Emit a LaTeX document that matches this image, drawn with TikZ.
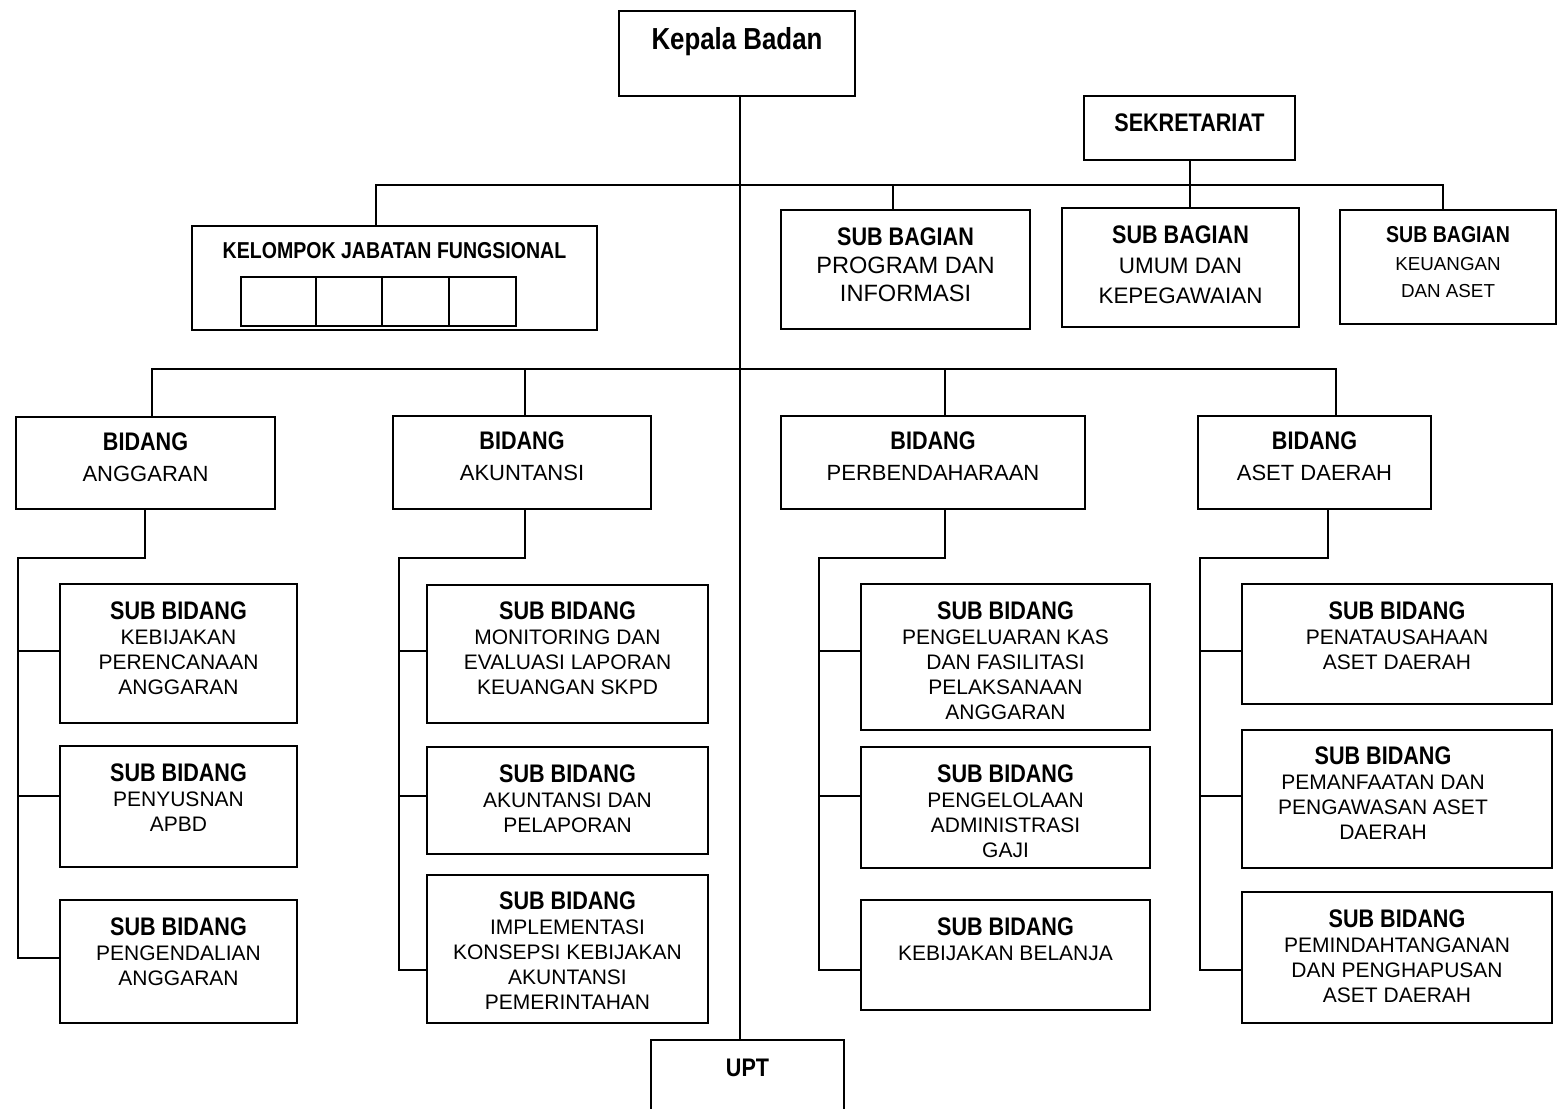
\documentclass[tikz,border=0pt]{standalone}
\usepackage{fontspec}
\setmainfont{Liberation Sans}
\newfontfamily\hdfam[FakeStretch=0.85]{Liberation Sans}
\newcommand{\kop}[1]{{\hdfam\bfseries\fontsize{12.7}{12.5}\selectfont #1}}
\usetikzlibrary{positioning,fit}

\begin{document}
\begin{tikzpicture}[x=0.5pt, y=-0.5pt, line width=1pt,
    box/.style={draw, rectangle, inner sep=0pt, line width=1.1pt},
    txt/.style={inner sep=0pt, align=center, font=\fontsize{10.5}{12.5}\selectfont}]
  \clip (0,0) rectangle (1557,1108);

  % pimpinan dan sekretariat
  \node[box, fit={(619,11) (855,96)}] (kb) {};
  \node[txt, below=8.5pt of kb.north] (kbt) {{\hdfam\bfseries\fontsize{15.2}{18}\selectfont Kepala Badan}};
  \node[box, fit={(1084,96) (1295,160)}] (sek) {};
  \node[txt, below=9pt of sek.north] (sekt) {\kop{SEKRETARIAT}};

  \node[box, fit={(192,226) (597,330)}] (kjf) {};
  \node[txt, below=8.4pt of kjf.north] (kjft) {{\hdfam\bfseries\fontsize{11.5}{12}\selectfont KELOMPOK JABATAN FUNGSIONAL}};
  \draw (241,277) rectangle (516,326);
  \foreach \x in {316,382,449} \draw (\x,277) -- (\x,326);

  \node[box, fit={(781,210) (1030,329)}] (sb1) {};
  \node[txt, font=\fontsize{11.8}{14}\selectfont, below=9pt of sb1.north] (sb1t) {\kop{SUB BAGIAN}\\PROGRAM DAN\\INFORMASI};
  \node[box, fit={(1062,208) (1299,327)}] (sb2) {};
  \node[txt, font=\fontsize{11.2}{15}\selectfont, below=9pt of sb2.north] (sb2t) {\kop{SUB BAGIAN}\\UMUM DAN\\KEPEGAWAIAN};
  \node[box, fit={(1340,210) (1556,324)}] (sb3) {};
  \node[txt, font=\fontsize{9.4}{13.75}\selectfont, below=8.4pt of sb3.north] (sb3t) {{\hdfam\bfseries\fontsize{11.5}{12}\selectfont SUB BAGIAN}\\KEUANGAN\\DAN ASET};

  % bidang
  \node[box, fit={(16,417) (275,509)}] (bid1) {};
  \node[txt, font=\fontsize{11}{15.5}\selectfont, below=8pt of bid1.north] (bid1t) {\kop{BIDANG}\\ANGGARAN};
  \node[box, fit={(393,416) (651,509)}] (bid2) {};
  \node[txt, font=\fontsize{11}{15.5}\selectfont, below=8pt of bid2.north] (bid2t) {\kop{BIDANG}\\AKUNTANSI};
  \node[box, fit={(781,416) (1085,509)}] (bid3) {};
  \node[txt, font=\fontsize{11}{15.5}\selectfont, below=8pt of bid3.north] (bid3t) {\kop{BIDANG}\\PERBENDAHARAAN};
  \node[box, fit={(1198,416) (1431,509)}] (bid4) {};
  \node[txt, font=\fontsize{11}{15.5}\selectfont, below=8pt of bid4.north] (bid4t) {\kop{BIDANG}\\ASET DAERAH};

  % sub bidang
  \node[box, fit={(60,584) (297,723)}] (s11) {};
  \node[txt, below=9pt of s11.north] (s11t) {\kop{SUB BIDANG}\\KEBIJAKAN\\PERENCANAAN\\ANGGARAN};
  \node[box, fit={(60,746) (297,867)}] (s12) {};
  \node[txt, below=9pt of s12.north] (s12t) {\kop{SUB BIDANG}\\PENYUSNAN\\APBD};
  \node[box, fit={(60,900) (297,1023)}] (s13) {};
  \node[txt, below=9pt of s13.north] (s13t) {\kop{SUB BIDANG}\\PENGENDALIAN\\ANGGARAN};

  \node[box, fit={(427,585) (708,723)}] (s21) {};
  \node[txt, below=8.5pt of s21.north] (s21t) {\kop{SUB BIDANG}\\MONITORING DAN\\EVALUASI LAPORAN\\KEUANGAN SKPD};
  \node[box, fit={(427,747) (708,854)}] (s22) {};
  \node[txt, below=9pt of s22.north] (s22t) {\kop{SUB BIDANG}\\AKUNTANSI DAN\\PELAPORAN};
  \node[box, fit={(427,875) (708,1023)}] (s23) {};
  \node[txt, below=8.5pt of s23.north] (s23t) {\kop{SUB BIDANG}\\IMPLEMENTASI\\KONSEPSI KEBIJAKAN\\AKUNTANSI\\PEMERINTAHAN};

  \node[box, fit={(861,584) (1150,730)}] (s31) {};
  \node[txt, below=9pt of s31.north] (s31t) {\kop{SUB BIDANG}\\PENGELUARAN KAS\\DAN FASILITASI\\PELAKSANAAN\\ANGGARAN};
  \node[box, fit={(861,747) (1150,868)}] (s32) {};
  \node[txt, below=9pt of s32.north] (s32t) {\kop{SUB BIDANG}\\PENGELOLAAN\\ADMINISTRASI\\GAJI};
  \node[box, fit={(861,900) (1150,1010)}] (s33) {};
  \node[txt, below=9pt of s33.north] (s33t) {\kop{SUB BIDANG}\\KEBIJAKAN BELANJA};

  \node[box, fit={(1242,584) (1552,704)}] (s41) {};
  \node[txt, below=9pt of s41.north] (s41t) {\kop{SUB BIDANG}\\PENATAUSAHAAN\\ASET DAERAH};
  \node[box, fit={(1242,730) (1552,868)}] (s42) {};
  \node[txt, below=8.5pt of s42.north, xshift=-7pt] (s42t) {\kop{SUB BIDANG}\\PEMANFAATAN DAN\\PENGAWASAN ASET\\DAERAH};
  \node[box, fit={(1242,892) (1552,1023)}] (s43) {};
  \node[txt, below=9pt of s43.north] (s43t) {\kop{SUB BIDANG}\\PEMINDAHTANGANAN\\DAN PENGHAPUSAN\\ASET DAERAH};

  \node[box, fit={(651,1040) (844,1140)}] (upt) {};
  \node[txt, below=9.5pt of upt.north] (uptt) {\kop{UPT}};

  % garis
  \coordinate (axis) at (740,0);
  \draw (kb.south -| axis) -- (upt.north -| axis);

  \coordinate (ta) at (376,185);
  \coordinate (tb) at (893,185);
  \coordinate (tc) at (1443,185);
  \draw (ta |- kjf.north) -- (ta) -- (tc) -- (tc |- sb3.north);
  \draw (tb) -- (tb |- sb1.north);
  \draw (sek.south) -- (sek.south |- sb2.north);

  \coordinate (ba) at (152,369);
  \coordinate (bb) at (525,369);
  \coordinate (bc) at (945,369);
  \coordinate (bd) at (1336,369);
  \draw (ba |- bid1.north) -- (ba) -- (bd) -- (bd |- bid4.north);
  \draw (bb) -- (bb |- bid2.north);
  \draw (bc) -- (bc |- bid3.north);

  \foreach \c/\kx/\rx/\yl in {1/145/18/958, 2/525/399/970, 3/945/819/970, 4/1328/1200/970} {
    \coordinate (k\c) at (\kx,558);
    \coordinate (r\c) at (\rx,558);
    \draw (bid\c.south -| k\c) -- (k\c) -- (r\c) -- (\rx,\yl) -- (s\c3.west |- 0,\yl);
    \draw (\rx,651) -- (s\c1.west |- 0,651);
    \draw (\rx,796) -- (s\c2.west |- 0,796);
  }
\end{tikzpicture}
\end{document}
